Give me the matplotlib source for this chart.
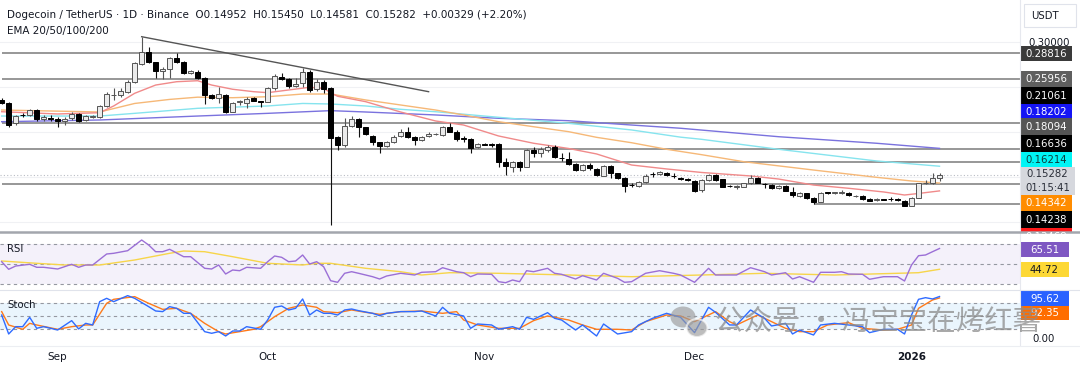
import matplotlib
matplotlib.use('Agg')
import matplotlib.pyplot as plt
from matplotlib.patches import Rectangle, Ellipse
from matplotlib.ticker import MultipleLocator, FixedLocator
import numpy as np
import pandas as pd

plt.rcParams['font.family'] = ['DejaVu Sans', 'Noto Sans CJK SC']

W, H = 1080, 368

# DOGE/USDT daily candles, 2025-08-24 .. 2026-01-05
dates = pd.date_range('2025-08-24', '2026-01-05', freq='D')

opens = [0.2359, 0.2329, 0.2099, 0.2192, 0.2188, 0.2244, 0.2143, 0.2158, 0.2143, 0.2129,
         0.2155, 0.2203, 0.2136, 0.2173, 0.2166, 0.2292, 0.2414, 0.2414, 0.2451, 0.2555,
         0.2759, 0.2897, 0.2778, 0.2685, 0.2704, 0.2822, 0.2785, 0.2655, 0.2674, 0.2607,
         0.2414, 0.2377, 0.2410, 0.2229, 0.2340, 0.2321, 0.2377, 0.2344, 0.2340, 0.2488,
         0.2618, 0.2589, 0.2514, 0.2544, 0.2674, 0.2477, 0.2555, 0.2488, 0.1943, 0.1858,
         0.2069, 0.2143, 0.2054, 0.1962, 0.1887, 0.1847, 0.1895, 0.1958, 0.2002, 0.1950,
         0.1913, 0.1958, 0.1976, 0.1965, 0.2054, 0.2006, 0.1932, 0.1925, 0.1832, 0.1865,
         0.1865, 0.1865, 0.1672, 0.1617, 0.1672, 0.1617, 0.1802, 0.1765, 0.1802, 0.1832,
         0.1717, 0.1702, 0.1643, 0.1580, 0.1635, 0.1587, 0.1516, 0.1624, 0.1542, 0.1494,
         0.1413, 0.1401, 0.1442, 0.1535, 0.1535, 0.1550, 0.1516, 0.1494, 0.1479, 0.1461,
         0.1357, 0.1468, 0.1524, 0.1476, 0.1405, 0.1394, 0.1394, 0.1431, 0.1487, 0.1424,
         0.1413, 0.1375, 0.1401, 0.1338, 0.1294, 0.1320, 0.1272, 0.1227, 0.1327, 0.1324,
         0.1327, 0.1327, 0.1290, 0.1290, 0.1260, 0.1246, 0.1253, 0.1257, 0.1253, 0.1234,
         0.1179, 0.1272, 0.1431, 0.1431, 0.14952]
highs = [0.2377, 0.2340, 0.2192, 0.2218, 0.2262, 0.2255, 0.2192, 0.2192, 0.2166, 0.2166,
         0.2225, 0.2210, 0.2192, 0.2188, 0.2303, 0.2448, 0.2488, 0.2488, 0.2581, 0.2785,
         0.3063, 0.2952, 0.2785, 0.2730, 0.2841, 0.2878, 0.2796, 0.2692, 0.2692, 0.2618,
         0.2425, 0.2499, 0.2422, 0.2340, 0.2359, 0.2396, 0.2388, 0.2351, 0.2499, 0.2648,
         0.2655, 0.2600, 0.2600, 0.2711, 0.2692, 0.2589, 0.2581, 0.2507, 0.1958, 0.2155,
         0.2180, 0.2155, 0.2062, 0.1969, 0.1895, 0.1902, 0.1969, 0.2032, 0.2054, 0.1958,
         0.1958, 0.2006, 0.1988, 0.2069, 0.2099, 0.2025, 0.1958, 0.1932, 0.1876, 0.1876,
         0.1876, 0.1876, 0.1709, 0.1680, 0.1680, 0.1809, 0.1832, 0.1832, 0.1858, 0.1858,
         0.1772, 0.1776, 0.1654, 0.1643, 0.1654, 0.1598, 0.1635, 0.1635, 0.1550, 0.1505,
         0.1431, 0.1461, 0.1535, 0.1561, 0.1572, 0.1561, 0.1550, 0.1505, 0.1487, 0.1470,
         0.1475, 0.1535, 0.1535, 0.1483, 0.1416, 0.1416, 0.1438, 0.1524, 0.1498, 0.1431,
         0.1420, 0.1409, 0.1409, 0.1387, 0.1331, 0.1327, 0.1283, 0.1338, 0.1338, 0.1338,
         0.1357, 0.1335, 0.1301, 0.1297, 0.1268, 0.1264, 0.1260, 0.1283, 0.1268, 0.1246,
         0.1278, 0.1438, 0.1468, 0.1550, 0.15450]
lows = [0.2314, 0.2062, 0.2080, 0.2166, 0.2180, 0.2129, 0.2129, 0.2129, 0.2062, 0.2080,
        0.2136, 0.2117, 0.2129, 0.2158, 0.2158, 0.2284, 0.2359, 0.2396, 0.2440, 0.2544,
        0.2752, 0.2767, 0.2600, 0.2589, 0.2600, 0.2767, 0.2648, 0.2648, 0.2589, 0.2314,
        0.2366, 0.2321, 0.2210, 0.2221, 0.2303, 0.2266, 0.2344, 0.2277, 0.2333, 0.2470,
        0.2581, 0.2488, 0.2507, 0.2507, 0.2451, 0.2462, 0.2433, 0.0967, 0.1802, 0.1832,
        0.2054, 0.1950, 0.1969, 0.1858, 0.1765, 0.1839, 0.1884, 0.1943, 0.1932, 0.1858,
        0.1906, 0.1950, 0.1965, 0.1958, 0.1999, 0.1906, 0.1895, 0.1772, 0.1821, 0.1854,
        0.1832, 0.1617, 0.1524, 0.1561, 0.1572, 0.1609, 0.1728, 0.1728, 0.1784, 0.1709,
        0.1683, 0.1635, 0.1572, 0.1572, 0.1580, 0.1516, 0.1513, 0.1487, 0.1479, 0.1338,
        0.1387, 0.1394, 0.1431, 0.1498, 0.1524, 0.1516, 0.1487, 0.1468, 0.1461, 0.1331,
        0.1338, 0.1461, 0.1461, 0.1387, 0.1394, 0.1364, 0.1387, 0.1424, 0.1431, 0.1375,
        0.1368, 0.1368, 0.1342, 0.1283, 0.1283, 0.1257, 0.1201, 0.1220, 0.1316, 0.1316,
        0.1312, 0.1290, 0.1279, 0.1246, 0.1231, 0.1238, 0.1242, 0.1238, 0.1238, 0.1175,
        0.1175, 0.1264, 0.1424, 0.1424, 0.14581]
closes = [0.2329, 0.2080, 0.2180, 0.2188, 0.2247, 0.2143, 0.2173, 0.2147, 0.2125, 0.2151,
          0.2203, 0.2129, 0.2180, 0.2177, 0.2292, 0.2422, 0.2418, 0.2459, 0.2563, 0.2767,
          0.2897, 0.2785, 0.2681, 0.2707, 0.2822, 0.2785, 0.2655, 0.2681, 0.2600, 0.2414,
          0.2377, 0.2425, 0.2229, 0.2329, 0.2344, 0.2373, 0.2351, 0.2340, 0.2488, 0.2626,
          0.2589, 0.2518, 0.2537, 0.2674, 0.2470, 0.2563, 0.2477, 0.1939, 0.1858, 0.2073,
          0.2143, 0.2062, 0.1980, 0.1887, 0.1850, 0.1895, 0.1950, 0.2006, 0.1943, 0.1913,
          0.1950, 0.1976, 0.1980, 0.2054, 0.2006, 0.1925, 0.1928, 0.1821, 0.1865, 0.1862,
          0.1861, 0.1672, 0.1624, 0.1672, 0.1617, 0.1802, 0.1765, 0.1809, 0.1832, 0.1728,
          0.1713, 0.1643, 0.1580, 0.1635, 0.1598, 0.1524, 0.1628, 0.1542, 0.1487, 0.1401,
          0.1409, 0.1450, 0.1513, 0.1531, 0.1561, 0.1524, 0.1513, 0.1479, 0.1468, 0.1349,
          0.1468, 0.1524, 0.1468, 0.1394, 0.1401, 0.1397, 0.1431, 0.1487, 0.1438, 0.1420,
          0.1375, 0.1401, 0.1349, 0.1301, 0.1320, 0.1264, 0.1227, 0.1327, 0.1324, 0.1327,
          0.1335, 0.1297, 0.1294, 0.1253, 0.1238, 0.1257, 0.1250, 0.1254, 0.1250, 0.1179,
          0.1272, 0.1431, 0.1438, 0.14953, 0.15282]

# EMA lines (candle index, value)
ema20_idx = [0, 8, 14, 16, 19, 22, 25, 28, 30, 33, 36, 38, 41, 44, 46, 47, 48, 52, 57, 62,
             66, 71, 76, 81, 85, 90, 95, 100, 107, 111, 116, 121, 126, 129, 131, 134]
ema20 = [0.2228, 0.2203, 0.2217, 0.2292, 0.2433, 0.2525, 0.2562, 0.2573, 0.2525, 0.2478,
         0.2451, 0.2440, 0.2470, 0.2500, 0.2488, 0.2440, 0.2400, 0.2340, 0.2225, 0.2125,
         0.2080, 0.1958, 0.1877, 0.1819, 0.1758, 0.1635, 0.1591, 0.1552, 0.1513, 0.1479,
         0.1412, 0.1376, 0.1335, 0.1301, 0.1318, 0.13468]
ema50_idx = [0, 14, 19, 24, 28, 33, 38, 43, 47, 52, 57, 62, 66, 71, 76, 81, 85, 90, 95,
             100, 106, 116, 125, 130, 134]
ema50 = [0.2247, 0.2225, 0.2320, 0.2365, 0.2390, 0.2384, 0.2395, 0.2425, 0.2425, 0.2359,
         0.2303, 0.2247, 0.2192, 0.2117, 0.2061, 0.2006, 0.1943, 0.1883, 0.1810, 0.1750,
         0.1672, 0.1579, 0.1498, 0.1457, 0.14342]
ema100_idx = [0, 14, 19, 28, 38, 43, 47, 52, 57, 62, 71, 81, 90, 97, 100, 111, 125, 134]
ema100 = [0.2180, 0.2180, 0.2210, 0.2266, 0.2292, 0.2320, 0.2314, 0.2292, 0.2255, 0.2228,
          0.2166, 0.2099, 0.2025, 0.1945, 0.1921, 0.1810, 0.1680, 0.16214]
ema200_idx = [0, 14, 28, 38, 47, 52, 62, 71, 81, 90, 97, 111, 125, 134]
ema200 = [0.2117, 0.2136, 0.2180, 0.2210, 0.2240, 0.2225, 0.2192, 0.2155, 0.2128, 0.2080,
          0.2044, 0.1950, 0.1877, 0.18202]

# drawn horizontal levels and the trend line
levels = [0.28816, 0.25956, 0.21061, 0.18094, 0.16636, 0.14238, 0.1201]
level_start = [0, 0, 0, 0, 75, 0, 116]
trend_idx = [20, 61]
trend_val = [0.3063, 0.2451]

# RSI(14) and its MA
rsi_idx = [0, 1, 2, 4, 5, 6, 8, 10, 11, 12, 13, 15, 16, 18, 20, 21, 22, 23, 24, 26,
           27, 29, 30, 31, 32, 33, 34, 35, 37, 38, 39, 40, 41, 42, 43, 44, 45, 46, 47, 48,
           49, 50, 51, 53, 54, 55, 57, 59, 60, 62, 63, 65, 66, 67, 68, 70, 71, 72, 73, 74,
           75, 76, 78, 79, 80, 82, 83, 85, 86, 88, 89, 90, 92, 94, 96, 97, 99, 101, 102, 105,
           107, 109, 110, 112, 113, 114, 116, 117, 119, 120, 121, 123, 124, 126, 127, 128, 129, 130, 131, 132,
           133, 134]
rsi = [52.3, 44.7, 48, 49.7, 46.7, 46.7, 45, 49.7, 46.7, 49,
       49, 60, 60.7, 63.3, 74, 69, 62.3, 62.3, 64.7, 57.3,
       57.3, 45.7, 45, 49, 40, 44, 43.3, 46.7, 45.7, 52.3,
       58, 56.7, 52.3, 53, 59, 50, 52.3, 47.3, 33.3, 31.7,
       40.7, 42.3, 40.7, 37.3, 35, 38, 40.7, 39, 41.7, 42.3,
       46.3, 42.3, 41.3, 37.3, 40, 39.7, 32.3, 31.3, 34, 32.3,
       43.3, 42.3, 45.7, 40.7, 39.7, 35, 38.3, 34, 40.7, 35.7,
       31.7, 32.3, 40.7, 43.3, 40.7, 39, 31.7, 45.7, 39, 39,
       46.3, 42.3, 39, 41.3, 35, 37.3, 31.7, 41.7, 41.7, 42.3,
       40, 39.7, 34.7, 37.3, 37.3, 37.3, 33, 49, 58.3, 59,
       62.3, 65.51]
rsi_ma_idx = [0, 5, 9, 14, 19, 24, 26, 29, 33, 38, 43, 45, 47, 52, 57, 60, 64, 71, 81, 90,
              100, 109, 119, 128, 131, 134]
rsi_ma = [53, 50.7, 49, 49, 54, 60.7, 63, 62.3, 57.3, 50.7, 49, 50.7, 50.7, 45.7, 42.3, 39,
          41.3, 40.7, 39, 37.3, 39, 40.7, 39, 40.7, 41.3, 44.72]

# Stochastic %K / %D
k_idx = [0, 1, 2, 3, 4, 5, 6, 8, 10, 11, 12, 13, 14, 15, 16, 18, 19, 21, 22, 23,
         24, 25, 26, 27, 29, 30, 31, 32, 33, 34, 35, 37, 38, 39, 40, 41, 42, 43, 44, 45,
         46, 47, 48, 49, 50, 51, 53, 54, 55, 57, 59, 60, 62, 63, 64, 66, 67, 68, 70, 71,
         73, 74, 75, 76, 78, 79, 80, 82, 83, 85, 86, 88, 90, 91, 93, 95, 97, 99, 101, 102,
         104, 105, 107, 109, 110, 112, 113, 114, 116, 117, 119, 121, 123, 124, 126, 128, 129, 130, 131, 132,
         133, 134]
k_val = [53, 9.2, 26.1, 26.1, 47.7, 22.3, 26.1, 18.4, 40, 20.8,
         33.8, 30, 83.8, 91.5, 83.8, 97.7, 91.5, 72.3, 62.3, 60.8,
         72.3, 68.4, 56.9, 56.9, 14.6, 10.8, 14.6, 4.6, 16.1, 16.1,
         26.1, 20, 41.5, 70.8, 73.8, 64.6, 68.4, 90, 53, 64.6,
         56.9, 56.9, 53, 64.6, 66.9, 63, 56.9, 51.5, 56.9, 60.8,
         60.8, 62.3, 50.8, 70.8, 56.9, 50.8, 22.3, 32.3, 30, 20,
         26.1, 20, 47.7, 43, 58.4, 45.4, 41.5, 18.4, 30, 4.6,
         32.3, 9.2, 14.6, 30, 45.4, 56.9, 47.7, 12.3, 70.8, 59.2,
         30, 30, 64.6, 45.4, 27.7, 33.8, 9.2, 18.4, 6.9, 30,
         33.8, 30, 26.1, 12.3, 20, 20, 9.2, 53, 89.2, 93,
         90, 95.62]
d_idx = [0, 1, 3, 4, 5, 8, 10, 12, 13, 15, 16, 19, 21, 23, 25, 27, 29, 31, 32, 34,
         36, 37, 39, 41, 43, 45, 46, 48, 50, 52, 54, 57, 60, 63, 65, 66, 68, 71, 74, 76,
         78, 81, 83, 85, 88, 90, 92, 95, 97, 99, 100, 102, 104, 105, 108, 110, 112, 114, 116, 118,
         121, 123, 126, 128, 130, 131, 133, 134]
d_val = [60.8, 30, 20, 33.8, 30, 20, 26.1, 30, 30, 80,
         89.2, 95.4, 80, 66.1, 68.4, 56.9, 33.8, 14.6, 9.2, 14.6,
         20, 26.1, 49.2, 68.4, 76.1, 70.8, 60.8, 58.4, 64.6, 59.2,
         54.6, 60.8, 62.3, 56.9, 60.8, 41.5, 30, 22.3, 22.3, 40,
         50.8, 41.5, 30, 20, 20, 18.4, 37.7, 53, 50.8, 37.7,
         45.4, 60.8, 37.7, 30, 53, 37.7, 22.3, 14.6, 14.6, 30,
         35.4, 22.3, 18.4, 20, 30, 68.4, 87.7, 92.35]

x = np.arange(len(dates))
o, hi, lo, c = map(np.array, (opens, highs, lows, closes))
up = c >= o

fig = plt.figure(figsize=(W / 100, H / 100), dpi=100)
fig.patch.set_facecolor('white')
pr = 1020 / W
ax = fig.add_axes([0, 1 - 232 / H, pr, 232 / H])
ax_rsi = fig.add_axes([0, 1 - 290 / H, pr, 57 / H])
ax_st = fig.add_axes([0, 1 - 345 / H, pr, 54 / H])
for a in (ax, ax_rsi, ax_st):
    a.set_xlim(-0.24, 145.5)
    for s in a.spines.values():
        s.set_visible(False)
    a.tick_params(length=0, labelbottom=False, labelleft=False)

# ---- main pane ----
ax.set_ylim(0.08893, 0.34715)
ax.yaxis.set_major_locator(MultipleLocator(0.05))
ax.yaxis.tick_right()
ax.tick_params(axis='y', labelright=True, labelsize=7.3, pad=6, colors='#131722')
# only the top grid label is left uncovered by the price tags
ax.yaxis.set_major_formatter(lambda v, p: f'{v:.5f}' if v > 0.29 else '')
ax.grid(axis='y', color='#f0f1f4', lw=0.8)

for lv, st in zip(levels, level_start):
    ax.hlines(lv, st, 145.5, color='#7b7b7b', lw=1.1, zorder=2)
ax.plot(trend_idx, trend_val, color='#555555', lw=1.0, zorder=2)
ax.axhline(c[-1], color='#b9bcc4', ls=(0, (1, 2)), lw=0.8, zorder=1)

ax.plot(ema200_idx, ema200, color='#7a72de', lw=1.0, zorder=2)
ax.plot(ema100_idx, ema100, color='#86e4ee', lw=1.0, zorder=2)
ax.plot(ema50_idx, ema50, color='#f6b877', lw=1.0, zorder=2)
ax.plot(ema20_idx, ema20, color='#f08a8a', lw=1.0, zorder=2)

body = np.maximum(np.abs(c - o), 0.0005)
ax.vlines(x[up], lo[up], hi[up], color='#555555', lw=0.8, zorder=3)
ax.vlines(x[~up], lo[~up], hi[~up], color='#111111', lw=0.8, zorder=3)
ax.bar(x[up], body[up], bottom=o[up], width=0.64, facecolor='#ebebeb',
       edgecolor='#555555', lw=0.7, zorder=4)
ax.bar(x[~up], body[~up], bottom=c[~up], width=0.64, facecolor='black',
       edgecolor='black', lw=0.7, zorder=4)

chg = c[-1] - c[-2]
fig.text(7 / W, 1 - 15 / H,
         f'Dogecoin / TetherUS · 1D · Binance  O{o[-1]:.5f}  H{hi[-1]:.5f}  '
         f'L{lo[-1]:.5f}  C{c[-1]:.5f}  {chg:+.5f} ({chg / c[-2] * 100:+.2f}%)',
         fontsize=7.5, color='#131722', va='center')
fig.text(7 / W, 1 - 31 / H, 'EMA 20/50/100/200', fontsize=7.5, color='#131722', va='center')

# ---- RSI pane ----
ax_rsi.set_ylim(24, 81)
ax_rsi.axhspan(30, 70, color='#7e57c2', alpha=0.08, lw=0)
for lv in (70, 50, 30):
    ax_rsi.axhline(lv, color='#9598a1', ls=(0, (3, 3)), lw=0.8)
ax_rsi.plot(rsi_ma_idx, rsi_ma, color='#f7d54a', lw=1.0)
ax_rsi.plot(rsi_idx, rsi, color='#9b6fd6', lw=1.0)
ax_rsi.text(7 / 1020, 1 - 15.5 / 57, 'RSI', transform=ax_rsi.transAxes, fontsize=7.3,
            color='#131722', va='center')

# ---- Stoch pane ----
ax_st.set_ylim(-16.2, 108.4)
ax_st.axhspan(20, 80, color='#2196f3', alpha=0.09, lw=0)
for lv in (80, 50, 20):
    ax_st.axhline(lv, color='#9598a1', ls=(0, (3, 3)), lw=0.8)
ax_st.plot(d_idx, d_val, color='#ff7a1a', lw=1.0)
ax_st.plot(k_idx, k_val, color='#2f6bff', lw=1.0)
ax_st.text(7 / 1020, 1 - 14.5 / 54, 'Stoch', transform=ax_st.transAxes, fontsize=7.3,
           color='#131722', va='center')
ax_st.yaxis.tick_right()
ax_st.yaxis.set_major_locator(FixedLocator([0]))
ax_st.yaxis.set_major_formatter(lambda v, p: f'{v:.2f}')
ax_st.tick_params(axis='y', labelright=True, labelsize=7.3, pad=9, colors='#131722')

month_idx = [i for i, d in enumerate(dates) if d.day == 1]
month_lbl = [str(d.year) if d.month == 1 else d.strftime('%b') for d in dates[month_idx]]
ax_st.set_xticks(month_idx)
ax_st.set_xticklabels(month_lbl)
ax_st.tick_params(axis='x', labelbottom=True, labelsize=7.5, pad=5, colors='#131722')
for t, d in zip(ax_st.get_xticklabels(), dates[month_idx]):
    if d.month == 1:
        t.set_fontweight('bold')

# ---- overlay in pixel space: separators, price tags, watermark ----
lab = fig.add_axes([0, 0, 1, 1], zorder=10)
lab.set_xlim(0, W)
lab.set_ylim(H, 0)
lab.axis('off')
lab.patch.set_alpha(0)

lab.plot([1020, 1020], [0, 345], color='#e6e8ee', lw=0.8)
lab.plot([0, W], [290, 290], color='#e0e3eb', lw=0.8)
lab.plot([0, W], [345.5, 345.5], color='#eceef2', lw=0.8)

clip_main = Rectangle((1000, 0), 80, 231.5, transform=lab.transData)


def tag(text, y0, y1, bg, fg, x1=1072, clip=None, fs=7.3):
    r = Rectangle((1020, y0), x1 - 1020, y1 - y0, facecolor=bg, edgecolor='none')
    lab.add_patch(r)
    t = lab.text((1020 + x1) / 2, (y0 + y1) / 2 + 0.5, text, ha='center', va='center',
                 fontsize=fs, color=fg, linespacing=1.5)
    if clip is not None:
        r.set_clip_path(clip)
        t.set_clip_path(clip)


tag(f'{levels[0]:.5f}', 45.5, 61, '#3a3a3a', 'white')
tag(f'{levels[1]:.5f}', 70.5, 87.3, '#5f5f5f', 'white')
tag(f'{levels[2]:.5f}', 87.3, 104, 'black', 'white')
tag(f'{ema200[-1]:.5f}', 104, 118.3, '#1515f5', 'white')
tag(f'{levels[3]:.5f}', 118.3, 135, '#555555', 'white')
tag(f'{levels[4]:.5f}', 135, 151.7, 'black', 'white')
tag(f'{ema100[-1]:.5f}', 151.7, 166.7, '#00f5f5', '#0e3a3a')
tag(f'{c[-1]:.5f}\n01:15:41', 166.7, 195, '#d6d8de', '#2a2e39', x1=1075)
tag(f'{ema50[-1]:.5f}', 195, 210.7, '#ff8c00', 'white')
tag(f'{levels[5]:.5f}', 210.7, 228.3, 'black', 'white')
tag(f'{ema20[-1]:.5f}', 228.3, 245, '#ff1a1a', 'white', clip=clip_main)
lab.plot([0, W], [232, 232], color='#a3a6ad', lw=1.8)

tag(f'{rsi[-1]:.2f}', 241.7, 256.7, '#7e57c2', 'white', x1=1069)
tag(f'{rsi_ma[-1]:.2f}', 261.7, 276.7, '#fdd835', '#131722', x1=1069)
tag(f'{k_val[-1]:.2f}', 291, 305.5, '#2962ff', 'white', x1=1069)
tag(f'{d_val[-1]:.2f}', 305.5, 319.5, '#ff6d00', 'white', x1=1069)

# USDT box
lab.add_patch(Rectangle((1024, 4), 52, 23, facecolor='white', edgecolor='#e0e3eb', lw=0.8))
lab.text(1045, 16, 'USDT', ha='center', va='center', fontsize=7.3, color='#131722')

# watermark
lab.add_patch(Ellipse((683, 317), 25, 21, facecolor='#9a9a9a', edgecolor='none', alpha=0.65))
lab.add_patch(Ellipse((697, 328), 21, 18, facecolor='#9a9a9a', edgecolor='white', lw=1.5, alpha=0.65))
lab.text(715, 321.5, '公众号 · 冯宝宝在烤红薯', fontfamily='Noto Sans CJK SC', fontsize=20.5,
         color='#8c8c8c', alpha=0.75, va='center', ha='left')

fig.savefig('out.png', dpi=100, facecolor='white')
